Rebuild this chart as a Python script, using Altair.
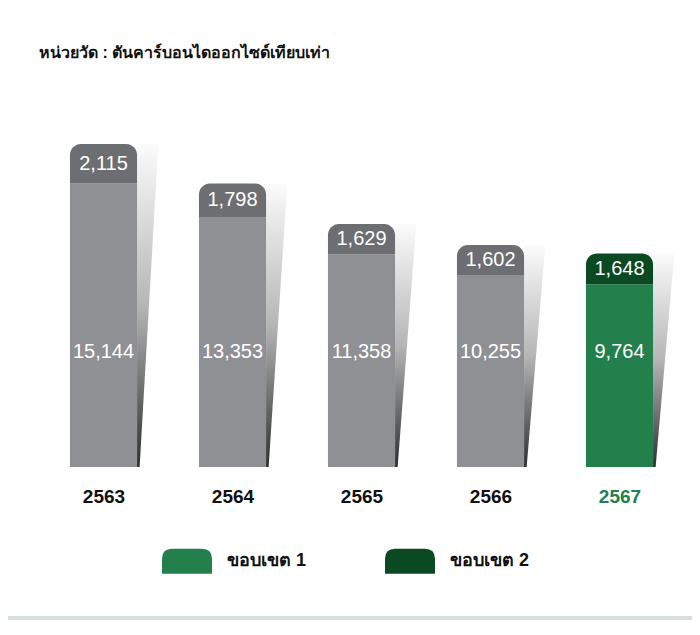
import json
import altair as alt
import pandas as pd

# ---------------- data ----------------
years = ["2563", "2564", "2565", "2566", "2567"]
scope1 = [15144, 13353, 11358, 10255, 9764]
scope2 = [2115, 1798, 1629, 1602, 1648]
highlight_year = "2567"
legend_labels = ["ขอบเขต 1", "ขอบเขต 2"]
title_text = "หน่วยวัด : ตันคาร์บอนไดออกไซด์เทียบเท่า"

# ---------------- style ----------------
GREEN1 = "#237f4b"
GREEN2 = "#0b4922"
GRAY1 = "#8f9093"
GRAY2 = "#6d6e71"
TXT = "#111111"
FONT = "Liberation Sans"
HALF = 0.26          # half bar width (index units)
SH_TOP = 0.165       # shadow width at top (index units)
SH_BOT = 0.02        # shadow width at bottom
LABEL1_LEVEL = 6150  # level where scope-1 values are written
Y_MAX = 19500

hl_idx = years.index(highlight_year)

rows = []
for i, (yr, a, b) in enumerate(zip(years, scope1, scope2)):
    hl = yr == highlight_year
    rows.append(dict(year=yr, idx=i, seg="s1", lo=0, hi=a, value=a,
                     cat=legend_labels[0] if hl else "g1"))
    rows.append(dict(year=yr, idx=i, seg="s2", lo=a, hi=a + b, value=b,
                     cat=legend_labels[1] if hl else "g2"))
seg = pd.DataFrame(rows)

sh_rows = []
for i, (yr, a, b) in enumerate(zip(years, scope1, scope2)):
    sh_rows.append(dict(year=yr, idx=i, yv=a + b, w=SH_TOP))
    sh_rows.append(dict(year=yr, idx=i, yv=0, w=SH_BOT))
shadow = pd.DataFrame(sh_rows)

xscale = alt.Scale(domain=[-0.5, len(years) - 0.5], nice=False, zero=False)
yscale = alt.Scale(domain=[0, Y_MAX], nice=False)

xaxis = alt.Axis(
    values=list(range(len(years))),
    labelExpr=f"{json.dumps(years)}[datum.value]",
    labelColor={"condition": {"test": f"datum.value == {hl_idx}", "value": GREEN1},
                "value": TXT},
    labelFontSize=19, labelFontWeight="bold", labelFont=FONT,
    labelPadding=20, domain=False, ticks=False, grid=False, title=None,
)

color = alt.Color(
    "cat:N",
    scale=alt.Scale(domain=legend_labels + ["g1", "g2"],
                    range=[GREEN1, GREEN2, GRAY1, GRAY2]),
    legend=alt.Legend(
        values=legend_labels, title=None, orient="none", direction="horizontal",
        legendX=123, legendY=434, padding=0,
        symbolType="M-1,0.5L-1,-0.1Q-1,-0.5,-0.6,-0.5L0.6,-0.5Q1,-0.5,1,-0.1L1,0.5Z",
        symbolSize=2500, symbolStrokeWidth=0, symbolOpacity=1,
        labelFontSize=18, labelFontWeight="bold", labelColor=TXT,
        labelOffset=15, columnPadding=78,
    ),
)

base = alt.Chart(seg)

shadow_layer = alt.Chart(shadow).transform_calculate(
    xl=f"datum.idx + {HALF}", xr=f"datum.idx + {HALF} + datum.w"
).mark_area(
    orient="horizontal",
    color=alt.LinearGradient(
        gradient="linear",
        stops=[alt.GradientStop(color="#fbfbfb", offset=0),
               alt.GradientStop(color="#b5b5b5", offset=0.5),
               alt.GradientStop(color="#2e2e2e", offset=1)],
        x1=0, x2=0, y1=0, y2=1),
).encode(
    x=alt.X("xl:Q", scale=xscale, axis=xaxis),
    x2="xr:Q",
    y=alt.Y("yv:Q", scale=yscale, axis=None),
    detail="year:N",
)

bars1 = base.transform_filter("datum.seg == 's1'").transform_calculate(
    xa=f"datum.idx - {HALF}", xb=f"datum.idx + {HALF}"
).mark_rect().encode(
    x=alt.X("xa:Q", scale=xscale, axis=xaxis), x2="xb:Q",
    y=alt.Y("lo:Q", scale=yscale, axis=None), y2="hi:Q",
    color=color,
)

bars2 = base.transform_filter("datum.seg == 's2'").transform_calculate(
    xa=f"datum.idx - {HALF}", xb=f"datum.idx + {HALF}"
).mark_rect(cornerRadiusTopLeft=11, cornerRadiusTopRight=11).encode(
    x=alt.X("xa:Q", scale=xscale, axis=xaxis), x2="xb:Q",
    y=alt.Y("lo:Q", scale=yscale, axis=None), y2="hi:Q",
    color=color,
)

text1 = base.transform_filter("datum.seg == 's1'").transform_calculate(
    lvl=f"{LABEL1_LEVEL}"
).mark_text(
    color="white", fontSize=20, font=FONT, baseline="middle", align="center"
).encode(
    x=alt.X("idx:Q", scale=xscale, axis=xaxis),
    y=alt.Y("lvl:Q", scale=yscale, axis=None),
    text=alt.Text("value:Q", format=","),
)

text2 = base.transform_filter("datum.seg == 's2'").transform_calculate(
    mid="(datum.lo + datum.hi) / 2"
).mark_text(
    color="white", fontSize=20, font=FONT, baseline="middle", align="center"
).encode(
    x=alt.X("idx:Q", scale=xscale, axis=xaxis),
    y=alt.Y("mid:Q", scale=yscale, axis=None),
    text=alt.Text("value:Q", format=","),
)

strip = alt.Chart(pd.DataFrame({"k": [0]})).mark_rect(color="#d6dfdb").encode(
    x=alt.value(-31), x2=alt.value(653), y=alt.value(514), y2=alt.value(530)
)

chart = alt.layer(strip, shadow_layer, bars1, bars2, text1, text2).properties(
    width=645, height=365,
    title=alt.TitleParams(title_text, anchor="start", frame="group", fontSize=16,
                          fontWeight="bold", color=TXT, offset=41),
    autosize=alt.AutoSizeParams(type="none"),
    padding={"left": 31, "top": 94, "right": 8, "bottom": 153},
    background="white",
).configure_view(stroke=None)

chart.save("out.html", embed_options={"renderer": "svg", "actions": False})
